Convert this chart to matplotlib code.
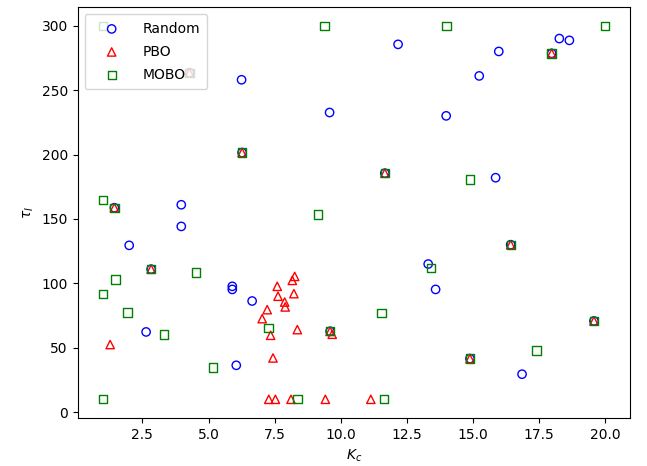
import matplotlib
matplotlib.use("Agg")
import matplotlib.pyplot as plt

# shared initial samples (all three methods)
init_kc = [1.44, 2.83, 6.27, 4.28, 9.60, 11.67, 14.89, 16.43, 17.98, 19.58]
init_ti = [158.7, 111.0, 201.5, 263.5, 62.8, 185.5, 41.6, 130.0, 278.5, 70.8]

rand_kc = [6.25, 12.17, 15.98, 15.24, 13.99, 18.27, 18.65, 9.58, 15.86, 13.31,
           13.59, 16.86, 3.97, 3.97, 2.00, 5.90, 5.90, 6.65, 2.64, 6.05]
rand_ti = [258.0, 285.5, 280.0, 261.0, 230.0, 290.0, 288.6, 232.6, 182.0, 115.0,
           95.3, 29.5, 161.0, 144.2, 129.5, 97.7, 95.3, 86.3, 62.3, 36.4]

pbo_kc = [1.28, 8.26, 8.17, 7.60, 8.23, 7.63, 7.88, 7.90, 7.22, 7.03,
          7.35, 8.36, 9.68, 7.44, 7.28, 7.53, 8.12, 9.42, 11.14]
pbo_ti = [52.5, 105.4, 102.3, 97.7, 92.0, 90.0, 85.5, 81.7, 79.6, 72.6,
          59.7, 64.1, 60.5, 42.1, 10.0, 10.0, 10.0, 10.0, 10.0]

mobo_kc = [1.00, 14.00, 20.00, 9.39, 1.00, 4.53, 1.48, 1.00, 1.94, 3.31,
           5.16, 1.00, 7.27, 11.54, 8.36, 11.63, 14.89, 13.41, 17.41, 9.13]
mobo_ti = [300.0, 300.0, 300.0, 300.0, 164.9, 108.3, 102.9, 92.0, 77.3, 60.2,
           34.6, 10.0, 65.4, 77.0, 10.0, 10.0, 180.6, 111.9, 48.0, 153.5]

fig = plt.figure(figsize=(6.47, 4.66), dpi=100)
ax = fig.add_axes([0.12, 0.103, 0.854, 0.882])

ax.scatter(init_kc + rand_kc, init_ti + rand_ti, marker="o",
           facecolors="none", edgecolors="blue", label="Random")
ax.scatter(init_kc + pbo_kc, init_ti + pbo_ti, marker="^",
           facecolors="none", edgecolors="red", label="PBO")
ax.scatter(init_kc + mobo_kc, init_ti + mobo_ti, marker="s",
           facecolors="none", edgecolors="green", label="MOBO")

ax.set_xlabel("$K_c$")
ax.set_ylabel(r"$\tau_I$")
ax.legend(loc="upper left", handlelength=2.8, labelspacing=0.65, borderpad=0.55)

fig.savefig("out.png", dpi=100)
